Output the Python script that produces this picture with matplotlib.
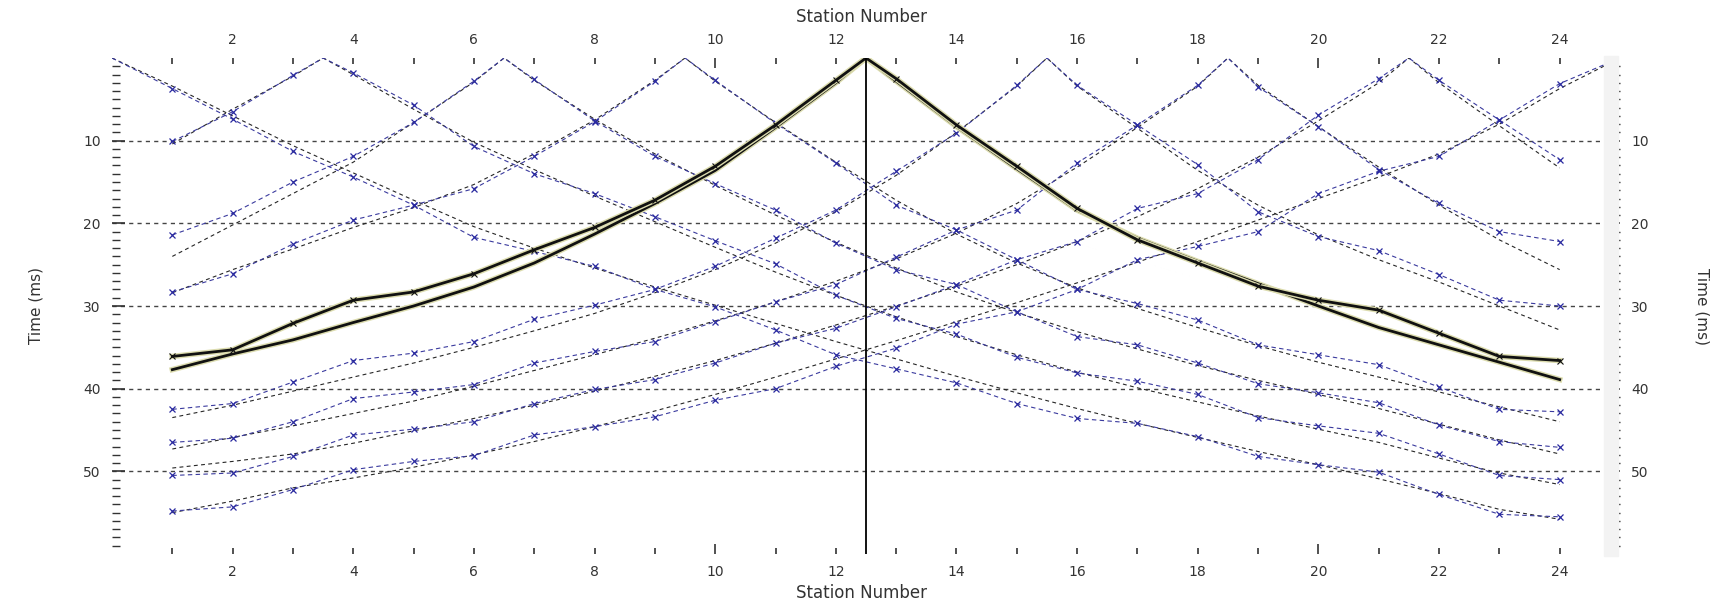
import matplotlib
matplotlib.use('Agg')
import matplotlib.pyplot as plt
import matplotlib.patheffects as pe
from matplotlib.ticker import FixedLocator, NullFormatter
from matplotlib.patches import Rectangle

plt.rcParams['font.family'] = ['DejaVu Sans']

# ---------------- data ----------------
stations = list(range(1, 25))
shot_positions = [0, 3.5, 6.5, 9.5, 12.5, 15.5, 18.5, 21.5, 25]

# observed first-arrival picks (ms) at stations 1..24
obs_shot_00 = [3.7, 7.4, 11.3, 14.4, 17.8, 21.7, 23.4, 25.2, 28.0, 30.1, 32.9, 35.9,
               37.6, 39.3, 41.8, 43.6, 44.2, 45.8, 48.2, 49.2, 50.1, 52.8, 55.2, 55.5]
obs_shot_03 = [10.1, 6.5, 2.1, 1.8, 5.7, 10.7, 14.0, 16.4, 19.2, 22.1, 24.9, 28.7,
               31.5, 33.4, 36.2, 38.1, 39.1, 40.7, 43.5, 44.5, 45.4, 47.9, 50.5, 51.0]
obs_shot_06 = [21.4, 18.8, 15.0, 11.9, 7.8, 2.8, 2.6, 7.6, 11.9, 15.2, 18.4, 22.4,
               25.6, 27.4, 30.7, 33.7, 34.7, 36.9, 39.4, 40.5, 41.7, 44.4, 46.4, 47.1]
obs_shot_09 = [28.3, 26.1, 22.5, 19.6, 17.8, 15.8, 11.9, 7.7, 2.8, 2.7, 7.9, 12.7,
               17.8, 20.8, 24.4, 28.0, 29.7, 31.7, 34.7, 35.9, 37.1, 39.8, 42.5, 42.8]
obs_shot_12 = [36.1, 35.3, 32.1, 29.3, 28.3, 26.1, 23.2, 20.5, 17.2, 13.1, 8.1, 2.7,
               2.5, 8.1, 13.1, 18.2, 22.0, 24.8, 27.6, 29.3, 30.5, 33.3, 36.1, 36.6]
obs_shot_15 = [42.5, 41.8, 39.2, 36.6, 35.7, 34.3, 31.6, 29.9, 28.0, 25.2, 21.8, 18.4,
               13.7, 9.1, 3.3, 3.3, 8.1, 12.9, 18.6, 21.6, 23.3, 26.2, 29.3, 30.0]
obs_shot_18 = [46.5, 46.0, 44.0, 41.2, 40.4, 39.5, 36.9, 35.5, 34.3, 31.9, 29.5, 27.4,
               24.1, 20.8, 18.4, 12.7, 8.1, 3.3, 3.5, 8.3, 13.5, 17.6, 21.0, 22.2]
obs_shot_21 = [50.5, 50.2, 48.2, 45.6, 44.9, 44.0, 41.8, 40.1, 38.9, 36.9, 34.5, 32.7,
               30.1, 27.4, 24.4, 22.2, 18.2, 16.4, 12.3, 6.9, 2.5, 2.7, 7.5, 12.3]
obs_shot_25 = [54.8, 54.3, 52.2, 49.8, 48.8, 48.1, 45.6, 44.6, 43.4, 41.4, 40.0, 37.3,
               35.1, 32.2, 30.7, 28.0, 24.4, 22.8, 21.0, 16.4, 13.7, 11.9, 7.5, 3.1]

# calculated (model) travel times (ms) at stations 1..24
calc_shot_00 = [3.4, 7.0, 10.6, 13.9, 17.2, 20.4, 23.0, 25.4, 27.7, 29.9, 32.1, 34.3,
                36.4, 38.5, 40.5, 42.4, 44.2, 45.9, 47.6, 49.2, 50.9, 52.7, 54.6, 55.8]
calc_shot_03 = [10.4, 6.2, 2.2, 2.0, 6.2, 10.2, 13.5, 16.7, 19.8, 22.9, 25.9, 28.7,
                31.3, 33.7, 35.9, 38.0, 39.9, 41.6, 43.3, 44.9, 46.5, 48.4, 50.2, 51.6]
calc_shot_06 = [24.0, 20.2, 16.4, 12.6, 7.8, 2.9, 2.7, 7.4, 11.6, 15.4, 19.0, 22.3,
                25.4, 28.3, 30.8, 33.1, 35.2, 37.2, 39.0, 40.7, 42.4, 44.3, 46.2, 47.9]
calc_shot_09 = [28.4, 25.6, 23.1, 20.5, 18.1, 15.3, 11.6, 7.5, 2.7, 2.8, 7.8, 12.6,
                17.2, 21.3, 24.8, 27.8, 30.3, 32.6, 34.8, 36.8, 38.6, 40.4, 42.2, 44.0]
calc_shot_12 = [37.7, 35.8, 34.1, 32.0, 30.0, 27.7, 24.8, 21.3, 17.6, 13.6, 8.4, 3.0,
                2.8, 8.3, 13.4, 18.4, 21.8, 24.6, 27.3, 30.0, 32.6, 34.7, 36.8, 38.9]
calc_shot_15 = [43.5, 42.0, 40.3, 38.6, 36.9, 35.0, 33.0, 30.9, 28.4, 25.6, 22.4, 18.6,
                14.2, 9.0, 3.4, 3.4, 8.5, 13.6, 17.8, 21.4, 24.4, 27.1, 30.0, 32.9]
calc_shot_18 = [47.3, 45.9, 44.5, 43.0, 41.5, 39.7, 37.8, 35.9, 33.9, 31.8, 29.5, 27.0,
                24.3, 21.2, 17.6, 13.2, 8.4, 3.4, 3.3, 8.3, 13.2, 17.8, 22.0, 25.6]
calc_shot_21 = [49.6, 48.8, 47.9, 46.6, 45.1, 43.6, 42.0, 40.3, 38.5, 36.6, 34.5, 32.3,
                30.0, 27.6, 25.0, 22.2, 19.2, 15.8, 12.0, 7.6, 3.0, 3.0, 8.2, 13.3]
calc_shot_25 = [55.0, 53.6, 52.0, 50.8, 49.5, 48.0, 46.4, 44.6, 42.7, 40.7, 38.6, 36.4,
                34.2, 31.9, 29.6, 27.2, 24.7, 22.2, 19.6, 17.0, 14.4, 11.6, 8.0, 3.7]

observed = [obs_shot_00, obs_shot_03, obs_shot_06, obs_shot_09, obs_shot_12,
            obs_shot_15, obs_shot_18, obs_shot_21, obs_shot_25]
calculated = [calc_shot_00, calc_shot_03, calc_shot_06, calc_shot_09, calc_shot_12,
              calc_shot_15, calc_shot_18, calc_shot_21, calc_shot_25]
selected_shot = 12.5

x_label_ticks = list(range(2, 25, 2))
x_minor_ticks = list(range(1, 25, 2))
y_major_ticks = [10, 20, 30, 40, 50]
y_minor_ticks = [v for v in range(1, 60) if v % 10 != 0]


def with_source(shot, times):
    xs, ys = [], []
    placed = False
    for s, t in zip(stations, times):
        if not placed and s > shot:
            xs.append(shot)
            ys.append(0.0)
            placed = True
        xs.append(s)
        ys.append(t)
    if not placed:
        xs.append(shot)
        ys.append(0.0)
    return xs, ys


# ---------------- figure ----------------
W, H = 1719, 604
fig = plt.figure(figsize=(W / 100, H / 100), dpi=100)
fig.patch.set_facecolor('white')
L, R, T, B = 112, 1620, 58, 554
ax = fig.add_axes([L / W, 1 - B / H, (R - L) / W, (B - T) / H])
ax.set_facecolor('none')
fig.patches.append(Rectangle((1604 / W, 1 - 556 / H), 14 / W, 500 / H,
                             transform=fig.transFigure, color='#f3f3f3', zorder=0))

ax.set_xlim(0, 25)
ax.set_ylim(60, 0)
for sp in ax.spines.values():
    sp.set_visible(False)

obs_color = '#3a3a9e'
calc_color = '#262626'

for shot, obs, calc in zip(shot_positions, observed, calculated):
    if shot == selected_shot:
        continue
    xc, yc = with_source(shot, calc)
    ax.plot(xc, yc, color=calc_color, lw=0.8, dashes=(3.5, 3), zorder=2)
    xo, yo = with_source(shot, obs)
    ax.plot(xo, yo, color=obs_color, lw=0.8, dashes=(4, 3), zorder=3)
    ax.plot(stations, obs, ls='none', marker='x', ms=5, mew=0.9,
            color='#2a2aa0', zorder=4)

# highlighted shot
halo = [pe.Stroke(linewidth=4.0, foreground='#dcdcae'), pe.Normal()]
for shot, obs, calc in zip(shot_positions, observed, calculated):
    if shot != selected_shot:
        continue
    xc, yc = with_source(shot, calc)
    ax.plot(xc, yc, color='#111111', lw=2.0, zorder=5, path_effects=halo)
    xo, yo = with_source(shot, obs)
    ax.plot(xo, yo, color='#111111', lw=2.0, zorder=6, path_effects=halo)
    ax.plot(stations, obs, ls='none', marker='x', ms=4, mew=0.8,
            color='#111111', zorder=7)

ax.axvline(selected_shot, color='black', lw=1.3, zorder=8)

# grid
for yv in y_major_ticks:
    ax.axhline(yv, color='#444444', lw=1.0, dashes=(3, 3), zorder=1)

# ticks
ax.xaxis.set_major_locator(FixedLocator(x_label_ticks))
ax.xaxis.set_minor_locator(FixedLocator(x_minor_ticks))
ax.set_xticklabels([str(v) for v in x_label_ticks])
ax.yaxis.set_major_locator(FixedLocator(y_major_ticks))
ax.yaxis.set_minor_locator(FixedLocator(y_minor_ticks))
ax.set_yticklabels([str(v) for v in y_major_ticks])
ax.xaxis.set_minor_formatter(NullFormatter())
ax.yaxis.set_minor_formatter(NullFormatter())

ax.tick_params(axis='x', which='both', direction='in', top=True, bottom=True,
               labeltop=True, labelbottom=True, length=4, width=1.2,
               colors='#333333', labelsize=10, pad=8)
ax.tick_params(axis='y', which='major', direction='in', left=True, right=True,
               labelleft=True, labelright=True, length=9, width=1.2,
               colors='#333333', labelsize=10, pad=8)
ax.tick_params(axis='y', which='minor', direction='in', left=True, right=True,
               length=6, width=1.0, colors='#333333')
for tk in ax.xaxis.get_major_ticks():
    if tk.get_loc() in (10, 20):
        tk.tick1line.set_markersize(7)
        tk.tick2line.set_markersize(7)

# labels
fig.text(861 / W, 1 - 17 / H, 'Station Number', ha='center', va='center',
         fontsize=12, color='#333333')
fig.text(861 / W, 1 - 593 / H, 'Station Number', ha='center', va='center',
         fontsize=12, color='#333333')
fig.text(36 / W, 1 - 306 / H, 'Time (ms)', ha='center', va='center',
         rotation=90, fontsize=11, color='#333333')
fig.text(1702 / W, 1 - 307 / H, 'Time (ms)', ha='center', va='center',
         rotation=270, fontsize=11, color='#333333')

fig.savefig('out.png', dpi=100, facecolor='white')
